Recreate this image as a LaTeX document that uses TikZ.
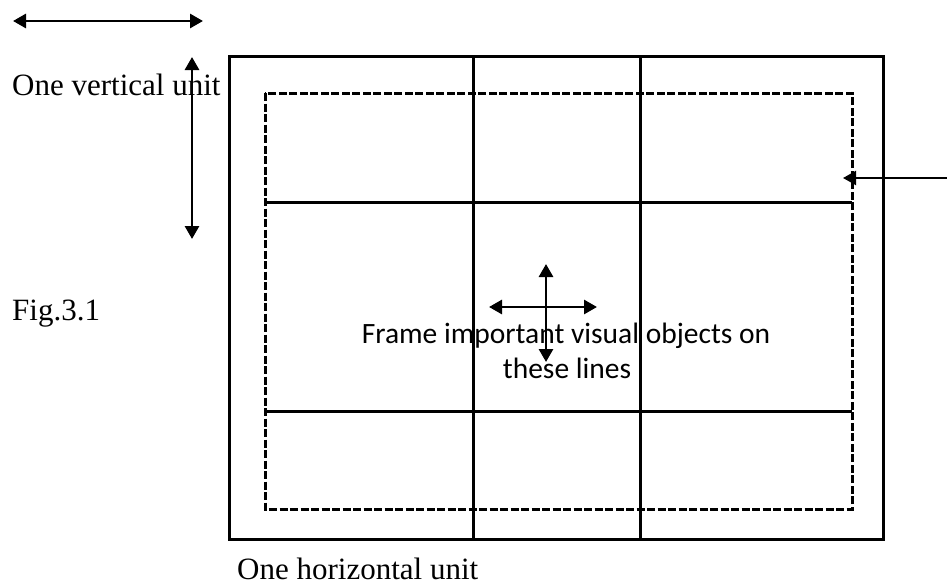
\documentclass[tikz,border=0pt]{standalone}
\usepackage{fontspec}
\setmainfont{Liberation Serif}
\newfontfamily\carlito{Carlito}
\usetikzlibrary{arrows.meta}
\begin{document}
\begin{tikzpicture}[x=1pt,y=-1pt,
  gridline/.style={line width=3pt},
  dashbox/.style={line width=3pt, dash pattern=on 8pt off 2.5pt},
  dblarrow/.style={line width=2.8pt, {Triangle[length=13pt,width=14pt]}-{Triangle[length=13pt,width=14pt]}},
  onearrow/.style={line width=2.3pt, -{Triangle[length=13pt,width=14pt]}},
  serif/.style={font=\fontsize{31}{36}\selectfont, inner sep=0pt, anchor=base west},
  sans/.style={font=\carlito\fontsize{29.5}{35}\selectfont, inner sep=0pt, anchor=base},
]
\useasboundingbox (0,0) rectangle (947,586);
% frames
\draw[gridline] (229,57) rectangle (883,539);
\draw[dashbox] (265,93) rectangle (852,509);
% grid lines
\coordinate (v1t) at (473,57);  \coordinate (v1b) at (473,539);
\coordinate (v2t) at (640,57);  \coordinate (v2b) at (640,539);
\coordinate (h1l) at (265,202); \coordinate (h1r) at (852,202);
\coordinate (h2l) at (265,411); \coordinate (h2r) at (852,411);
\draw[gridline] (v1t) -- (v1b);
\draw[gridline] (v2t) -- (v2b);
\draw[gridline] (h1l) -- (h1r);
\draw[gridline] (h2l) -- (h2r);
% unit arrows
\coordinate (ha) at (13,21);  \coordinate (hb) at (203,21);
\coordinate (va) at (192,57); \coordinate (vb) at (192,239);
\draw[dblarrow] (ha) -- (hb);
\draw[dblarrow] (va) -- (vb);
% centre cross
\coordinate (cl) at (489,307); \coordinate (cr) at (597,307);
\coordinate (ct) at (546,264); \coordinate (cb) at (546,362);
\draw[dblarrow] (cl) -- (cr);
\draw[dblarrow] (ct) -- (cb);
% right pointer
\coordinate (rs) at (947,178); \coordinate (re) at (843,178);
\draw[onearrow] (rs) -- (re);
% texts
\node[serif] (vunit) at (12,95) {One vertical unit};
\node[serif] (fig) at (12,320) {Fig.3.1};
\node[serif] (hunit) at (237,579) {One horizontal unit};
\node[sans] (frame1) at (566,343) {Frame important visual objects on};
\node[sans] (frame2) at (567,378) {these lines};
\end{tikzpicture}
\end{document}
